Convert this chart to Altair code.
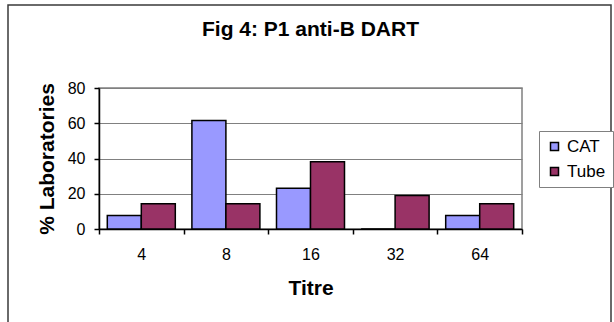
import altair as alt
import pandas as pd

# Titre categories and % of laboratories for each method
titres = ["4", "8", "16", "32", "64"]
cat_pct = [7.7, 61.5, 23.1, 0.0, 7.7]
tube_pct = [14.3, 14.3, 38.1, 19.0, 14.3]
methods = ["CAT", "Tube"]
method_colors = ["#9999FF", "#993366"]

rows = []
for t, c, u in zip(titres, cat_pct, tube_pct):
    rows.append({"Titre": t, "Method": "CAT", "Pct": c})
    rows.append({"Titre": t, "Method": "Tube", "Pct": u})
df = pd.DataFrame(rows)

FONT = "Liberation Sans"

bars = alt.Chart(df).mark_bar(
    stroke="black", strokeWidth=1.5, cornerRadius=0
).encode(
    x=alt.X(
        "Titre:N",
        sort=titres,
        scale=alt.Scale(paddingInner=0, paddingOuter=0),
        axis=alt.Axis(
            title="Titre",
            labelAngle=0,
            tickBand="extent",
            tickSize=5,
            labelPadding=12,
            titlePadding=15,
            grid=False,
        ),
    ),
    xOffset=alt.XOffset(
        "Method:N",
        sort=methods,
        scale=alt.Scale(paddingInner=0, paddingOuter=0.244),
    ),
    y=alt.Y(
        "Pct:Q",
        scale=alt.Scale(domain=[0, 80], nice=False),
        axis=alt.Axis(
            title="% Laboratories",
            values=[0, 20, 40, 60, 80],
            tickSize=5,
            labelPadding=9,
            titlePadding=10,
            grid=True,
        ),
    ),
    color=alt.Color(
        "Method:N",
        sort=methods,
        scale=alt.Scale(domain=methods, range=method_colors),
        legend=alt.Legend(
            title=None,
            orient="none",
            legendX=440,
            legendY=43,
            symbolType="square",
            symbolSize=64,
            symbolStrokeColor="black",
            symbolStrokeWidth=1.5,
            symbolOpacity=1,
            labelFontSize=17,
            labelFont=FONT,
            labelColor="black",
            rowPadding=7,
            padding=7,
            strokeColor="#808080",
            fillColor="white",
            labelOffset=4,
        ),
    ),
)

# outer chart frame
frame = alt.Chart(alt.Data(values=[{}])).mark_rect(
    filled=False, stroke="#3a3a3a", strokeWidth=1.5
).encode(
    x=alt.value(-91), x2=alt.value(512), y=alt.value(-83), y2=alt.value(260)
)

chart = alt.layer(bars, frame).properties(
    width=423,
    height=141,
    background="white",
    title=alt.TitleParams(
        "Fig 4: P1 anti-B DART",
        font=FONT,
        fontSize=21,
        fontWeight="bold",
        color="black",
        anchor="middle",
        offset=-36,
    ),
    autosize=alt.AutoSizeParams(type="none"),
    padding={"left": 99, "top": 88, "right": 92, "bottom": 93},
).configure_axis(
    labelFont=FONT,
    titleFont=FONT,
    labelFontSize=16,
    titleFontSize=21,
    titleFontWeight="bold",
    labelColor="black",
    titleColor="black",
    domainColor="black",
    domainWidth=1.5,
    tickColor="black",
    tickWidth=1.5,
    gridColor="#808080",
    gridWidth=1,
).configure_view(
    stroke="#808080", strokeWidth=1.5
)

chart.save("out.html", embed_options={"renderer": "svg", "actions": False})
